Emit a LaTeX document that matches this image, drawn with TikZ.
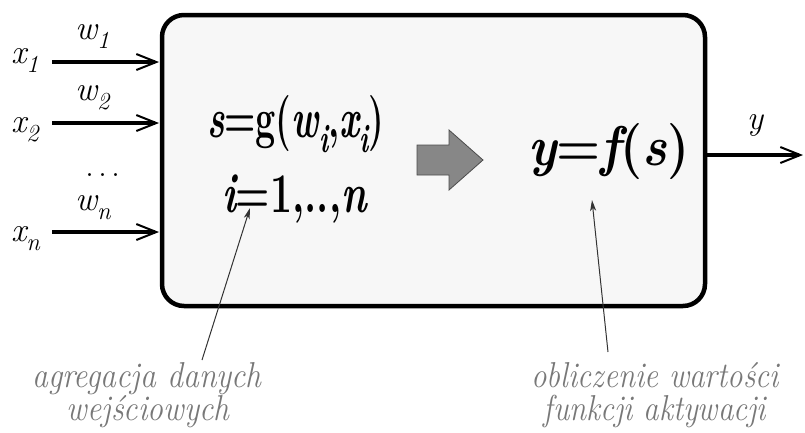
\documentclass[tikz,border=0pt]{standalone}
\usepackage{fontspec}
\usetikzlibrary{arrows.meta}
\newcommand{\lowidx}[1]{\raisebox{-0.28em}{\scalebox{0.72}{#1}}}
\definecolor{boxfill}{RGB}{247,247,247}
\definecolor{notegray}{RGB}{120,120,120}
\begin{document}
\begin{tikzpicture}[x=1pt,y=-1pt,
  every node/.style={inner sep=0pt,outer sep=0pt},
  inarrow/.style={line width=4pt,-{Straight Barb[length=20pt,width=16pt,line width=2pt]}},
  notearrow/.style={line width=1pt,draw=black!80,-{Stealth[length=11pt,width=6pt,inset=3pt]}},
  lbl/.style={font=\fontsize{34}{34}\selectfont\itshape},
  note/.style={font=\fontsize{36}{35}\selectfont\itshape,text=notegray,align=center},
  formula/.style={font=\fontsize{56}{56}\selectfont\bfseries}
]
\useasboundingbox (0,0) rectangle (805,432);
% main box
\draw[line width=4.5pt,fill=boxfill,rounded corners=22pt] (162,15) rectangle (705,306);
\coordinate (boxW1) at (159,62);
\coordinate (boxW2) at (159,123);
\coordinate (boxWn) at (159,232);
\coordinate (in1) at (52,62);
\coordinate (in2) at (52,123);
\coordinate (inn) at (52,232);
\coordinate (boxE) at (707,155);
\coordinate (outE) at (803,155);
% input arrows
\draw[inarrow] (in1) -- (boxW1);
\draw[inarrow] (in2) -- (boxW2);
\draw[inarrow] (inn) -- (boxWn);
\draw[inarrow] (boxE) -- (outE);
% input labels
\node[lbl,anchor=base west] (x1) at (11,63) {x\lowidx{1}};
\node[lbl,anchor=base west] (x2) at (11,132) {x\lowidx{2}};
\node[lbl,anchor=base west] (xn) at (11,241) {x\lowidx{n}};
\node[lbl,anchor=base west] (w1) at (75,39) {w\lowidx{1}};
\node[lbl,anchor=base west] (w2) at (75,100) {w\lowidx{2}};
\node[lbl,anchor=base west] (wn) at (75,210) {w\lowidx{n}};
\node[font=\fontsize{36}{36}\selectfont,anchor=base] (dots) at (103,176) {.\hspace{4pt}.\hspace{4pt}.};
\node[lbl,anchor=base] (ylab) at (755,129) {y};
% formulas
\node[formula,anchor=base west] (sform) at (207,137)
  {\scalebox{0.64}[1]{\itshape s\upshape=g(\itshape w\lowidx{i}\upshape,\itshape x\lowidx{i}\upshape)}};
\node[formula,anchor=base west] (iform) at (222,212)
  {\scalebox{0.70}[1]{\itshape i\upshape=1,..,\itshape n}};
\node[formula,anchor=base west] (yform) at (528,165)
  {\scalebox{0.9}[1]{\itshape y\upshape=\itshape f\upshape(\itshape s\upshape)}};
% grey block arrow
\draw[draw=black!70,fill=black!47,line width=0.8pt]
  (417,145) -- (449,145) -- (449,130) -- (483,160) -- (449,190) -- (449,175) -- (417,175) -- cycle;
% notes
\node[note,anchor=base] (note1) at (147,387) {\scalebox{0.88}[1]{agregacja danych}};
\node[note,anchor=base] (note1b) at (148,420) {\scalebox{0.88}[1]{wejściowych}};
\node[note,anchor=base] (note2) at (655,387) {\scalebox{0.86}[1]{obliczenie wartości}};
\node[note,anchor=base] (note2b) at (655,420) {\scalebox{0.86}[1]{funkcji aktywacji}};
\coordinate (n1s) at (202,360);
\coordinate (n1e) at (250,208);
\coordinate (n2s) at (608,352);
\coordinate (n2e) at (592,200);
\draw[notearrow] (n1s) -- (n1e);
\draw[notearrow] (n2s) -- (n2e);
\end{tikzpicture}
\end{document}
